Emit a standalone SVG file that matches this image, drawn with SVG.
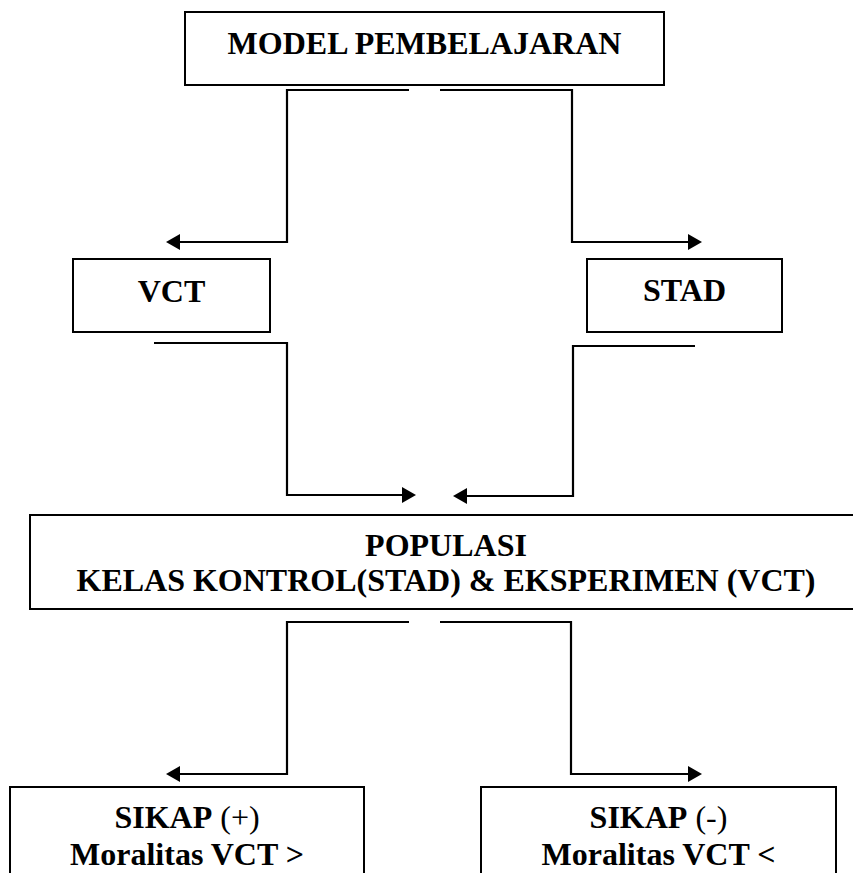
<svg xmlns="http://www.w3.org/2000/svg" width="853" height="873" viewBox="0 0 853 873">
<style>
.box{fill:#fff;stroke:#000;stroke-width:2}
.c{fill:none;stroke:#000;stroke-width:2.2;marker-end:url(#ah)}
</style>
<defs>
<marker id="ah" viewBox="0 0 14 16" refX="10" refY="8" markerWidth="14" markerHeight="16" markerUnits="userSpaceOnUse" orient="auto">
<path d="M0,0 L14,8 L0,16 z" fill="#000"/>
</marker>
</defs>
<rect width="853" height="873" fill="#fff"/>
<g id="connectors">
<path class="c" d="M409,90 H287 V242 H170"/>
<path class="c" d="M440,90 H572 V242 H698"/>
<path class="c" d="M154,343 H287 V495 H412"/>
<path class="c" d="M695,346 H573 V496 H457"/>
<path class="c" d="M409,622 H287 V774 H170"/>
<path class="c" d="M440,622 H571 V774 H698"/>
</g>
<g id="model">
<rect class="box" x="185" y="12" width="479" height="73"/>
<text x="424.5" y="54" font-family="Liberation Serif" font-weight="700" font-size="32" text-anchor="middle">MODEL PEMBELAJARAN</text>
</g>
<g id="vct">
<rect class="box" x="73" y="259" width="197" height="73"/>
<text x="171.5" y="302" font-family="Liberation Serif" font-weight="700" font-size="32" text-anchor="middle">VCT</text>
</g>
<g id="stad">
<rect class="box" x="587" y="259" width="195" height="73"/>
<text x="684.5" y="301" font-family="Liberation Serif" font-weight="700" font-size="32" text-anchor="middle">STAD</text>
</g>
<g id="populasi">
<rect class="box" x="30" y="515" width="830" height="94"/>
<text x="446" y="556" font-family="Liberation Serif" font-weight="700" font-size="32" text-anchor="middle">POPULASI</text>
<text x="446" y="591" font-family="Liberation Serif" font-weight="700" font-size="32" text-anchor="middle">KELAS KONTROL(STAD) &amp; EKSPERIMEN (VCT)</text>
</g>
<g id="sikap-plus">
<rect class="box" x="10" y="787" width="354" height="100"/>
<text x="187" y="828" font-family="Liberation Serif" font-weight="700" font-size="32" text-anchor="middle">SIKAP<tspan font-weight="400"> (+)</tspan></text>
<text x="187" y="865" font-family="Liberation Serif" font-weight="700" font-size="32" text-anchor="middle">Moralitas VCT &gt;</text>
</g>
<g id="sikap-minus">
<rect class="box" x="481" y="787" width="355" height="100"/>
<text x="658.5" y="828" font-family="Liberation Serif" font-weight="700" font-size="32" text-anchor="middle">SIKAP<tspan font-weight="400"> (-)</tspan></text>
<text x="658.5" y="865" font-family="Liberation Serif" font-weight="700" font-size="32" text-anchor="middle">Moralitas VCT &lt;</text>
</g>
</svg>
